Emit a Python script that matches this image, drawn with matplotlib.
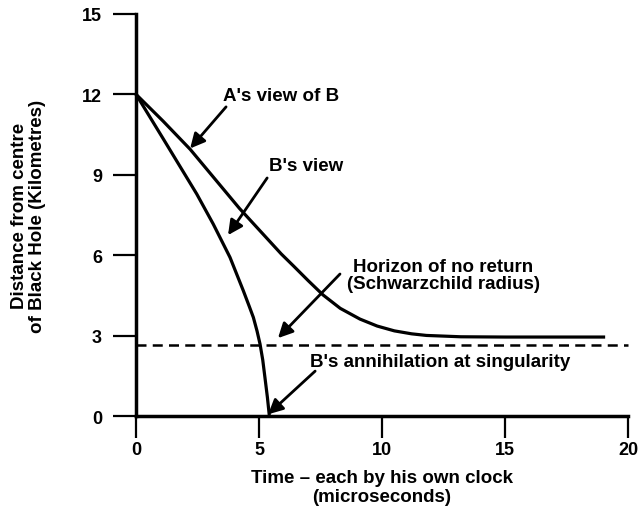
import numpy as np
import matplotlib
matplotlib.use('Agg')
import matplotlib.pyplot as plt

plt.rcParams['font.family'] = ['Liberation Sans', 'DejaVu Sans']
plt.rcParams['font.weight'] = 'bold'

# A's view of B (distant observer)
a_time = [0, 1.1, 2.2, 3.2, 4.2, 5.0, 5.9, 6.4, 7.0, 7.6, 8.3, 9.1, 9.8, 10.5,
          11.2, 11.8, 13.2, 15, 17, 19]
a_dist = [12, 11.0, 9.95, 8.85, 7.75, 6.95, 6.05, 5.6, 5.05, 4.52, 4.02, 3.62,
          3.36, 3.18, 3.07, 3.01, 2.96, 2.95, 2.95, 2.95]

# B's view (falling observer)
b_time = [0, 1.1, 2.47, 3.14, 3.82, 4.36, 4.6, 4.77, 4.92, 5.04, 5.15, 5.24, 5.34, 5.42]
b_dist = [12, 10.35, 8.28, 7.16, 5.92, 4.68, 4.1, 3.68, 3.17, 2.69, 2.1, 1.44, 0.7, 0]

horizon = 2.65
x_ticks = [0, 5, 10, 15, 20]
y_ticks = [0, 3, 6, 9, 12, 15]

fig = plt.figure(figsize=(6.4, 5.1), dpi=100)
ax = fig.add_axes([0.2125, 0.182, 0.769, 0.789])

ax.plot(a_time, a_dist, color='black', lw=2.3, solid_joinstyle='round', clip_on=False)
ax.plot(b_time, b_dist, color='black', lw=2.3, solid_joinstyle='round', clip_on=False)
ax.plot([0, 20], [horizon, horizon], color='black', lw=1.8, linestyle=(0, (4, 2.5)), clip_on=False)

ax.set_xlim(0, 20)
ax.set_ylim(0, 15)
ax.set_xticks(x_ticks)
ax.set_yticks(y_ticks)

for s in ['top', 'right']:
    ax.spines[s].set_visible(False)
for s in ['left', 'bottom']:
    ax.spines[s].set_linewidth(2.5)
    ax.spines[s].set_color('black')

ax.tick_params(axis='y', direction='out', length=16.5, width=1.6, pad=8, labelsize=13)
ax.tick_params(axis='x', direction='out', length=16, width=1.6, pad=2, labelsize=13)
for lab in ax.get_xticklabels() + ax.get_yticklabels():
    lab.set_fontweight('bold')

ax.set_xlabel('Time – each by his own clock\n(microseconds)', fontsize=13.5,
              fontweight='bold', labelpad=8, linespacing=1.1)
ax.set_ylabel('Distance from centre\nof Black Hole (Kilometres)', fontsize=13.5,
              fontweight='bold', labelpad=26, linespacing=1.05)

arrow = dict(arrowstyle='-|>', color='black', lw=2.0, mutation_scale=22,
             shrinkA=0, shrinkB=0)
txt = dict(fontsize=13.5, fontweight='bold', va='center')

ax.annotate("A's view of B", xy=(2.2, 9.98), xytext=(3.55, 11.94), ha='left', **txt)
ax.annotate('', xy=(2.2, 9.98), xytext=(3.66, 11.53), arrowprops=arrow)

ax.annotate("B's view", xy=(3.74, 6.75), xytext=(5.41, 9.33), ha='left', **txt)
ax.annotate('', xy=(3.74, 6.75), xytext=(5.33, 8.88), arrowprops=arrow)

ax.annotate('Horizon of no return\n(Schwarzchild radius)', xy=(5.77, 2.91),
            xytext=(12.48, 5.26), ha='center', multialignment='center',
            linespacing=0.95, **txt)
ax.annotate('', xy=(5.77, 2.91), xytext=(8.29, 5.3), arrowprops=arrow)

ax.annotate("B's annihilation at singularity", xy=(5.37, 0.07), xytext=(7.07, 2.05),
            ha='left', **txt)
ax.annotate('', xy=(5.37, 0.07), xytext=(7.28, 1.68), arrowprops=arrow)

fig.savefig('out.png', dpi=100)
